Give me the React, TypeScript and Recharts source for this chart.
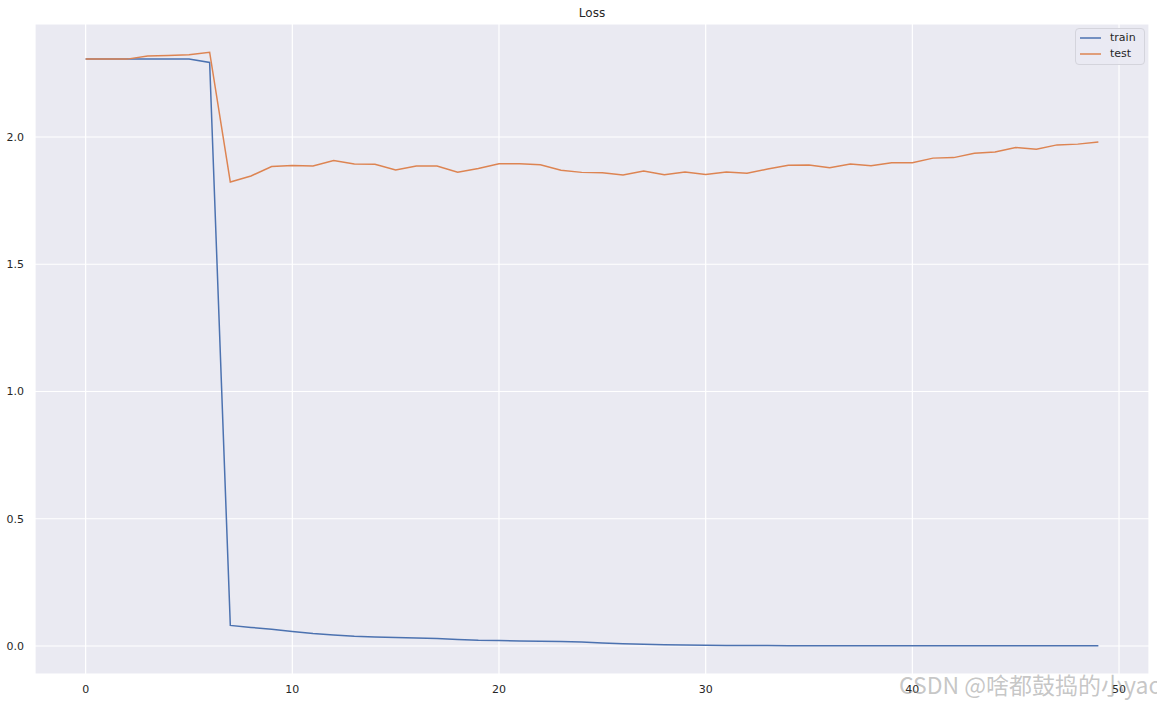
import React from 'react';
import { LineChart, Line, XAxis, YAxis, CartesianGrid } from 'recharts';

const epochs: number[] = Array.from({ length: 50 }, (_, i) => i);

const trainLoss: number[] = [
  2.306, 2.306, 2.306, 2.306, 2.306, 2.306, 2.293, 0.081, 0.073, 0.066,
  0.057, 0.049, 0.043, 0.038, 0.035, 0.033, 0.031, 0.029, 0.026, 0.023,
  0.022, 0.020, 0.019, 0.018, 0.016, 0.012, 0.009, 0.007, 0.005, 0.004,
  0.003, 0.002, 0.002, 0.002, 0.001, 0.001, 0.001, 0.001, 0.001, 0.001,
  0.001, 0.001, 0.001, 0.001, 0.001, 0.001, 0.001, 0.001, 0.001, 0.001,
];

const testLoss: number[] = [
  2.306, 2.306, 2.306, 2.318, 2.320, 2.323, 2.333, 1.823, 1.847, 1.884,
  1.888, 1.886, 1.908, 1.894, 1.893, 1.870, 1.886, 1.886, 1.862, 1.876,
  1.895, 1.895, 1.891, 1.869, 1.861, 1.860, 1.851, 1.866, 1.852, 1.862,
  1.853, 1.862, 1.858, 1.874, 1.889, 1.890, 1.879, 1.894, 1.887, 1.899,
  1.899, 1.917, 1.919, 1.936, 1.941, 1.959, 1.952, 1.969, 1.972, 1.980,
];

const xTicks: number[] = [0, 10, 20, 30, 40, 50];
const yTicks: number[] = [0, 0.5, 1.0, 1.5, 2.0];
const seriesNames: string[] = ['train', 'test'];
const seriesColors: string[] = ['#4C72B0', '#DD8452'];
const titleText = 'Loss';
const watermarkText = 'CSDN @啥都鼓捣的小yao';

const data = epochs.map((e, i) => ({ epoch: e, train: trainLoss[i], test: testLoss[i] }));

const FONT = '"DejaVu Sans", sans-serif';

const LegendBox = () => (
  <div
    style={{
      position: 'absolute',
      right: 12,
      top: 28,
      width: 64,
      height: 33,
      border: '1px solid #d4d4dc',
      borderRadius: 4,
      background: 'rgba(234,234,242,0.8)',
      padding: '1px 0 1px 4px',
      fontFamily: FONT,
      fontSize: 11,
      color: '#262626',
      lineHeight: '16px',
    }}
  >
    {seriesNames.map((n, i) => (
      <div key={n} style={{ display: 'flex', alignItems: 'center' }}>
        <svg width={21} height={10} style={{ marginRight: 9 }}>
          <line x1={0} y1={5} x2={21} y2={5} stroke={seriesColors[i]} strokeWidth={1.5} />
        </svg>
        <span>{n}</span>
      </div>
    ))}
  </div>
);

export default function App() {
  return (
    <div style={{ position: 'absolute', left: 0, top: 0, width: 1157, height: 702, background: '#ffffff', overflow: 'hidden' }}>
      <div
        style={{
          position: 'absolute',
          left: 35,
          width: 1114,
          top: 6,
          textAlign: 'center',
          fontFamily: FONT,
          fontSize: 12,
          color: '#262626',
        }}
      >
        {titleText}
      </div>
      <LineChart
        width={1157}
        height={702}
        data={data}
        margin={{ top: 24, right: 8, bottom: 0, left: 0 }}
      >
        <CartesianGrid stroke="#ffffff" strokeWidth={1.2} fill="#EAEAF2" fillOpacity={1} />
        <XAxis
          dataKey="epoch"
          type="number"
          domain={[-2.45, 51.45]}
          ticks={xTicks}
          allowDataOverflow
          axisLine={false}
          tickLine={false}
          tickSize={0}
          tickMargin={11}
          height={28}
          tick={{ fontFamily: FONT, fontSize: 11, fill: '#262626' }}
        />
        <YAxis
          type="number"
          domain={[-0.11, 2.444]}
          ticks={yTicks}
          allowDataOverflow
          axisLine={false}
          tickLine={false}
          tickSize={0}
          tickMargin={11}
          width={35}
          tickFormatter={(v: number) => v.toFixed(1)}
          tick={{ fontFamily: FONT, fontSize: 11, fill: '#262626' }}
        />
        <Line
          type="linear"
          dataKey="train"
          name={seriesNames[0]}
          stroke={seriesColors[0]}
          strokeWidth={1.5}
          dot={false}
          activeDot={false}
          isAnimationActive={false}
        />
        <Line
          type="linear"
          dataKey="test"
          name={seriesNames[1]}
          stroke={seriesColors[1]}
          strokeWidth={1.5}
          dot={false}
          activeDot={false}
          isAnimationActive={false}
        />
      </LineChart>
      <LegendBox />
      <div
        style={{
          position: 'absolute',
          left: 899,
          top: 667,
          fontFamily: '"Noto Sans CJK SC", "DejaVu Sans", sans-serif',
          fontSize: 23,
          color: 'rgba(150,150,150,0.55)',
          whiteSpace: 'nowrap',
          pointerEvents: 'none',
        }}
      >
        {watermarkText}
      </div>
    </div>
  );
}
